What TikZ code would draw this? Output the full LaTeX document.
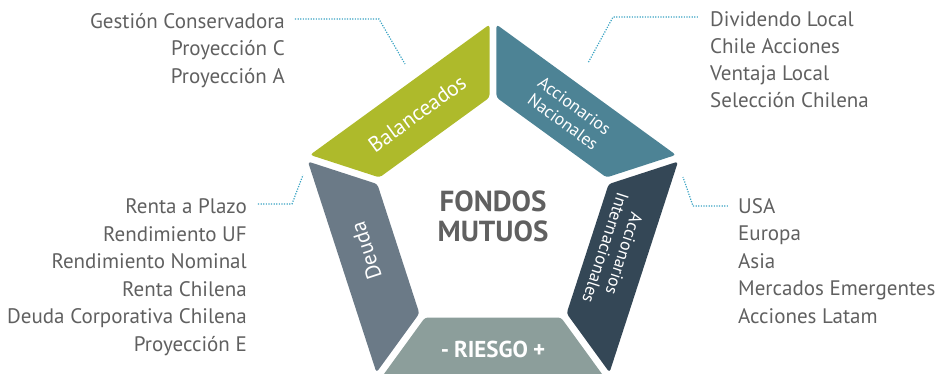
\documentclass[tikz,border=0pt]{standalone}
\usepackage{fontspec}
\setmainfont{PT Sans}
\usetikzlibrary{calc}
\definecolor{cgreen}{HTML}{AEBA2B}
\definecolor{cteal}{HTML}{4D8395}
\definecolor{cnavy}{HTML}{344756}
\definecolor{cslate}{HTML}{6B7A87}
\definecolor{cgraygreen}{HTML}{8C9E9B}
\definecolor{cleader}{HTML}{3AA3C3}
\definecolor{ctext}{HTML}{606060}
\newcommand\ringseg[3]{\fill[#3, rounded corners=3pt]
  ($(P#1)!4.3pt!(P#2)$) -- ($(P#2)!4.3pt!(P#1)$) --
  ($(Q#2)!4.3pt!(Q#1)$) -- ($(Q#1)!4.3pt!(Q#2)$) -- cycle;}
\begin{document}
\begin{tikzpicture}[x=1pt,y=1pt,
  seglab/.style={text=white, align=center, inner sep=0pt},
  item/.style={text=ctext, font=\fontsize{21}{24}\selectfont, inner sep=0pt},
  leader/.style={draw=cleader, line width=1.2pt, dash pattern=on 1.2pt off 1.4pt}]
\useasboundingbox (-493,-155) rectangle (445,218);
\foreach \k/\a in {0/90,1/162,2/234,3/306,4/378}{
  \coordinate (P\k) at (\a:196);
  \coordinate (Q\k) at (\a:123);
}
\ringseg{0}{1}{cgreen}
\ringseg{1}{2}{cslate}
\ringseg{2}{3}{cgraygreen}
\ringseg{3}{4}{cnavy}
\ringseg{4}{0}{cteal}
% segment labels
\node[seglab, font=\fontsize{21.5}{24}\selectfont, rotate=36] (bal) at (126:129) {Balanceados};
\node[seglab, font=\fontsize{17.5}{19.5}\selectfont, rotate=-36] (nac) at (54:129) {Accionarios\\Nacionales};
\node[seglab, font=\fontsize{21.5}{24}\selectfont, rotate=108] (deu) at (-127,-33) {Deuda};
\node[seglab, font=\fontsize{17.5}{19.5}\selectfont, rotate=-108] (int) at (122,-33) {Accionarios\\Internacionales};
\node[seglab, font=\bfseries\fontsize{23}{26}\selectfont] (ries) at (0,-131) {-\hspace{5pt}RIESGO\hspace{5pt}+};
\node[text=ctext, font=\bfseries\fontsize{29}{30}\selectfont, align=center, inner sep=0pt] (fm) at (0,2) {FONDOS\\MUTUOS};
% lists
\foreach \t [count=\i] in {Gestión Conservadora,Proyección C,Proyección A}
  \node[item, anchor=base east] (tl\i) at (-208,217.5-27.5*\i) {\t};
\foreach \t [count=\i] in {Dividendo Local,Chile Acciones,Ventaja Local,Selección Chilena}
  \node[item, anchor=base west] (tr\i) at (217,219-27*\i) {\t};
\foreach \t [count=\i] in {Renta a Plazo,Rendimiento UF,Rendimiento Nominal,Renta Chilena,Deuda Corporativa Chilena,Proyección E}
  \node[item, anchor=base east] (bl\i) at (-246,32-27.5*\i) {\t};
\foreach \t [count=\i] in {USA,Europa,Asia,Mercados Emergentes,Acciones Latam}
  \node[item, anchor=base west] (br\i) at (245,32.5-27.5*\i) {\t};
% leaders
\coordinate (tlA) at (-198,199); \coordinate (tlB) at (-114,199); \coordinate (tlC) at (-88,154);
\coordinate (trA) at (205,201);  \coordinate (trB) at (120,201);  \coordinate (trC) at (95,155);
\coordinate (blA) at (-235,14);  \coordinate (blB) at (-201,14);  \coordinate (blC) at (-190,43);
\coordinate (brA) at (235,12);   \coordinate (brB) at (200,12);   \coordinate (brC) at (190,41);
\draw[leader] (tlA) -- (tlB) -- (tlC);
\draw[leader] (trA) -- (trB) -- (trC);
\draw[leader] (blA) -- (blB) -- (blC);
\draw[leader] (brA) -- (brB) -- (brC);
\end{tikzpicture}
\end{document}
